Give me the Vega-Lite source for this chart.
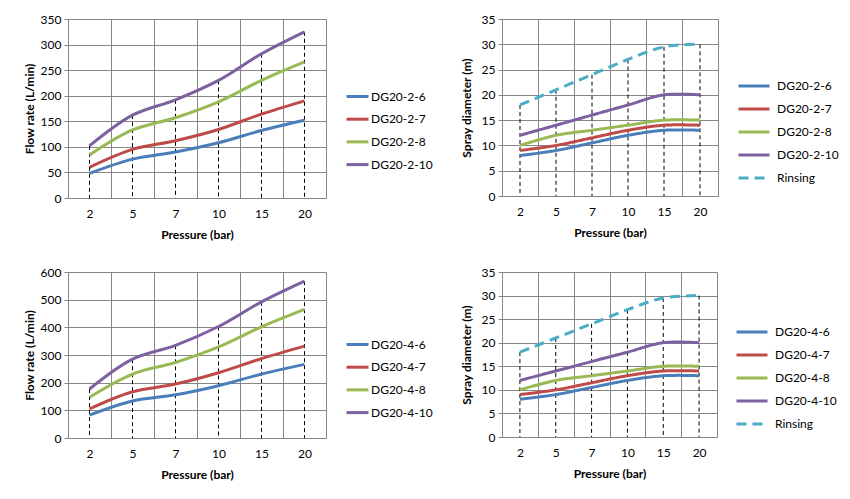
{
  "$schema": "https://vega.github.io/schema/vega-lite/v6.json",
  "background": "white",
  "padding": {"left": 23, "top": 13, "right": 5, "bottom": 5},
  "resolve": {"scale": {"color": "independent", "strokeDash": "independent"}, "legend": {"color": "independent", "strokeDash": "independent"}},
  "datasets": {
    "flow2": [
      {"p": 2, "s": "DG20-2-6", "v": 48}, {"p": 5, "s": "DG20-2-6", "v": 76}, {"p": 7, "s": "DG20-2-6", "v": 90}, {"p": 10, "s": "DG20-2-6", "v": 108}, {"p": 15, "s": "DG20-2-6", "v": 132}, {"p": 20, "s": "DG20-2-6", "v": 152},
      {"p": 2, "s": "DG20-2-7", "v": 60}, {"p": 5, "s": "DG20-2-7", "v": 95}, {"p": 7, "s": "DG20-2-7", "v": 112}, {"p": 10, "s": "DG20-2-7", "v": 134}, {"p": 15, "s": "DG20-2-7", "v": 164}, {"p": 20, "s": "DG20-2-7", "v": 190},
      {"p": 2, "s": "DG20-2-8", "v": 84}, {"p": 5, "s": "DG20-2-8", "v": 133}, {"p": 7, "s": "DG20-2-8", "v": 157}, {"p": 10, "s": "DG20-2-8", "v": 188}, {"p": 15, "s": "DG20-2-8", "v": 230}, {"p": 20, "s": "DG20-2-8", "v": 266},
      {"p": 2, "s": "DG20-2-10", "v": 102}, {"p": 5, "s": "DG20-2-10", "v": 162}, {"p": 7, "s": "DG20-2-10", "v": 192}, {"p": 10, "s": "DG20-2-10", "v": 230}, {"p": 15, "s": "DG20-2-10", "v": 282}, {"p": 20, "s": "DG20-2-10", "v": 325}
    ],
    "flow4": [
      {"p": 2, "s": "DG20-4-6", "v": 83}, {"p": 5, "s": "DG20-4-6", "v": 134}, {"p": 7, "s": "DG20-4-6", "v": 156}, {"p": 10, "s": "DG20-4-6", "v": 189}, {"p": 15, "s": "DG20-4-6", "v": 231}, {"p": 20, "s": "DG20-4-6", "v": 266},
      {"p": 2, "s": "DG20-4-7", "v": 105}, {"p": 5, "s": "DG20-4-7", "v": 167}, {"p": 7, "s": "DG20-4-7", "v": 195}, {"p": 10, "s": "DG20-4-7", "v": 236}, {"p": 15, "s": "DG20-4-7", "v": 287}, {"p": 20, "s": "DG20-4-7", "v": 332},
      {"p": 2, "s": "DG20-4-8", "v": 147}, {"p": 5, "s": "DG20-4-8", "v": 231}, {"p": 7, "s": "DG20-4-8", "v": 273}, {"p": 10, "s": "DG20-4-8", "v": 329}, {"p": 15, "s": "DG20-4-8", "v": 402}, {"p": 20, "s": "DG20-4-8", "v": 465},
      {"p": 2, "s": "DG20-4-10", "v": 177}, {"p": 5, "s": "DG20-4-10", "v": 285}, {"p": 7, "s": "DG20-4-10", "v": 335}, {"p": 10, "s": "DG20-4-10", "v": 403}, {"p": 15, "s": "DG20-4-10", "v": 492}, {"p": 20, "s": "DG20-4-10", "v": 567}
    ],
    "spray2": [
      {"p": 2, "s": "DG20-2-6", "v": 8}, {"p": 5, "s": "DG20-2-6", "v": 9}, {"p": 7, "s": "DG20-2-6", "v": 10.5}, {"p": 10, "s": "DG20-2-6", "v": 12}, {"p": 15, "s": "DG20-2-6", "v": 13}, {"p": 20, "s": "DG20-2-6", "v": 13},
      {"p": 2, "s": "DG20-2-7", "v": 9}, {"p": 5, "s": "DG20-2-7", "v": 10}, {"p": 7, "s": "DG20-2-7", "v": 11.5}, {"p": 10, "s": "DG20-2-7", "v": 13}, {"p": 15, "s": "DG20-2-7", "v": 14}, {"p": 20, "s": "DG20-2-7", "v": 14},
      {"p": 2, "s": "DG20-2-8", "v": 10}, {"p": 5, "s": "DG20-2-8", "v": 12}, {"p": 7, "s": "DG20-2-8", "v": 13}, {"p": 10, "s": "DG20-2-8", "v": 14}, {"p": 15, "s": "DG20-2-8", "v": 15}, {"p": 20, "s": "DG20-2-8", "v": 15},
      {"p": 2, "s": "DG20-2-10", "v": 12}, {"p": 5, "s": "DG20-2-10", "v": 14}, {"p": 7, "s": "DG20-2-10", "v": 16}, {"p": 10, "s": "DG20-2-10", "v": 18}, {"p": 15, "s": "DG20-2-10", "v": 20}, {"p": 20, "s": "DG20-2-10", "v": 20},
      {"p": 2, "s": "Rinsing", "v": 18}, {"p": 5, "s": "Rinsing", "v": 21}, {"p": 7, "s": "Rinsing", "v": 24}, {"p": 10, "s": "Rinsing", "v": 27}, {"p": 15, "s": "Rinsing", "v": 29.5}, {"p": 20, "s": "Rinsing", "v": 30}
    ],
    "spray4": [
      {"p": 2, "s": "DG20-4-6", "v": 8}, {"p": 5, "s": "DG20-4-6", "v": 9}, {"p": 7, "s": "DG20-4-6", "v": 10.5}, {"p": 10, "s": "DG20-4-6", "v": 12}, {"p": 15, "s": "DG20-4-6", "v": 13}, {"p": 20, "s": "DG20-4-6", "v": 13},
      {"p": 2, "s": "DG20-4-7", "v": 9}, {"p": 5, "s": "DG20-4-7", "v": 10}, {"p": 7, "s": "DG20-4-7", "v": 11.5}, {"p": 10, "s": "DG20-4-7", "v": 13}, {"p": 15, "s": "DG20-4-7", "v": 14}, {"p": 20, "s": "DG20-4-7", "v": 14},
      {"p": 2, "s": "DG20-4-8", "v": 10}, {"p": 5, "s": "DG20-4-8", "v": 12}, {"p": 7, "s": "DG20-4-8", "v": 13}, {"p": 10, "s": "DG20-4-8", "v": 14}, {"p": 15, "s": "DG20-4-8", "v": 15}, {"p": 20, "s": "DG20-4-8", "v": 15},
      {"p": 2, "s": "DG20-4-10", "v": 12}, {"p": 5, "s": "DG20-4-10", "v": 14}, {"p": 7, "s": "DG20-4-10", "v": 16}, {"p": 10, "s": "DG20-4-10", "v": 18}, {"p": 15, "s": "DG20-4-10", "v": 20}, {"p": 20, "s": "DG20-4-10", "v": 20},
      {"p": 2, "s": "Rinsing", "v": 18}, {"p": 5, "s": "Rinsing", "v": 21}, {"p": 7, "s": "Rinsing", "v": 24}, {"p": 10, "s": "Rinsing", "v": 27}, {"p": 15, "s": "Rinsing", "v": 29.5}, {"p": 20, "s": "Rinsing", "v": 30}
    ]
  },
  "vconcat": [
    {
      "resolve": {"scale": {"color": "independent", "strokeDash": "independent"}, "legend": {"color": "independent", "strokeDash": "independent"}},
      "hconcat": [
        {
          "width": 258, "height": 179,
          "data": {"name": "flow2"},
          "layer": [
            {
              "mark": {"type": "rule", "color": "#000", "strokeDash": [4, 3], "strokeWidth": 1},
              "encoding": {
                "x": {"field": "p", "type": "ordinal", "bandPosition": 0.5, "sort": [2, 5, 7, 10, 15, 20], "scale": {"type": "band", "paddingInner": 0, "paddingOuter": 0}, "axis": {"title": "Pressure (bar)", "grid": true}},
                "y": {"aggregate": "max", "field": "v", "type": "quantitative", "scale": {"domain": [0, 350]}, "axis": {"title": "Flow rate (L/min)", "values": [0, 50, 100, 150, 200, 250, 300, 350]}},
                "y2": {"datum": 0}
              }
            },
            {
              "mark": {"type": "line", "interpolate": "catmull-rom", "strokeWidth": 3},
              "encoding": {
                "x": {"field": "p", "type": "ordinal", "bandPosition": 0.5, "sort": [2, 5, 7, 10, 15, 20], "scale": {"type": "band", "paddingInner": 0, "paddingOuter": 0}, "axis": {"title": "Pressure (bar)", "grid": true}},
                "y": {"field": "v", "type": "quantitative", "scale": {"domain": [0, 350]}, "axis": {"title": "Flow rate (L/min)", "values": [0, 50, 100, 150, 200, 250, 300, 350]}},
                "color": {"field": "s", "type": "nominal", "scale": {"domain": ["DG20-2-6", "DG20-2-7", "DG20-2-8", "DG20-2-10"], "range": ["#4A7EBB", "#BE4B48", "#98B954", "#7D60A0"]}, "legend": {"title": null, "orient": "none", "legendX": 277, "legendY": 65, "symbolSize": 484, "labelOffset": 1, "rowPadding": 3.7}}
              }
            }
          ]
        },
        {
          "width": 216, "height": 177,
          "data": {"name": "spray2"},
          "layer": [
            {
              "mark": {"type": "rule", "color": "#000", "strokeDash": [4, 3], "strokeWidth": 1},
              "encoding": {
                "x": {"field": "p", "type": "ordinal", "bandPosition": 0.5, "sort": [2, 5, 7, 10, 15, 20], "scale": {"type": "band", "paddingInner": 0, "paddingOuter": 0}, "axis": {"title": "Pressure (bar)", "grid": true}},
                "y": {"aggregate": "max", "field": "v", "type": "quantitative", "scale": {"domain": [0, 35]}, "axis": {"title": "Spray diameter (m)", "titlePadding": 8, "values": [0, 5, 10, 15, 20, 25, 30, 35]}},
                "y2": {"datum": 0}
              }
            },
            {
              "mark": {"type": "line", "interpolate": "catmull-rom", "strokeWidth": 3},
              "encoding": {
                "x": {"field": "p", "type": "ordinal", "bandPosition": 0.5, "sort": [2, 5, 7, 10, 15, 20], "scale": {"type": "band", "paddingInner": 0, "paddingOuter": 0}, "axis": {"title": "Pressure (bar)", "grid": true}},
                "y": {"field": "v", "type": "quantitative", "scale": {"domain": [0, 35]}, "axis": {"title": "Spray diameter (m)", "titlePadding": 8, "values": [0, 5, 10, 15, 20, 25, 30, 35]}},
                "color": {"field": "s", "type": "nominal", "scale": {"domain": ["DG20-2-6", "DG20-2-7", "DG20-2-8", "DG20-2-10", "Rinsing"], "range": ["#4A7EBB", "#BE4B48", "#98B954", "#7D60A0", "#4BACC6"]}, "legend": {"title": null, "orient": "none", "legendX": 235, "legendY": 50, "symbolSize": 961, "labelOffset": 6, "rowPadding": -8}},
                "strokeDash": {"field": "s", "type": "nominal", "scale": {"domain": ["DG20-2-6", "DG20-2-7", "DG20-2-8", "DG20-2-10", "Rinsing"], "range": [[1, 0], [1, 0], [1, 0], [1, 0], [10, 6]]}, "legend": {"title": null, "orient": "none", "legendX": 235, "legendY": 50, "symbolSize": 961, "labelOffset": 6, "rowPadding": -8}}
              }
            }
          ]
        }
      ]
    },
    {
      "resolve": {"scale": {"color": "independent", "strokeDash": "independent"}, "legend": {"color": "independent", "strokeDash": "independent"}},
      "hconcat": [
        {
          "width": 258, "height": 166,
          "data": {"name": "flow4"},
          "layer": [
            {
              "mark": {"type": "rule", "color": "#000", "strokeDash": [4, 3], "strokeWidth": 1},
              "encoding": {
                "x": {"field": "p", "type": "ordinal", "bandPosition": 0.5, "sort": [2, 5, 7, 10, 15, 20], "scale": {"type": "band", "paddingInner": 0, "paddingOuter": 0}, "axis": {"title": "Pressure (bar)", "grid": true}},
                "y": {"aggregate": "max", "field": "v", "type": "quantitative", "scale": {"domain": [0, 600]}, "axis": {"title": "Flow rate (L/min)", "values": [0, 100, 200, 300, 400, 500, 600]}},
                "y2": {"datum": 0}
              }
            },
            {
              "mark": {"type": "line", "interpolate": "catmull-rom", "strokeWidth": 3},
              "encoding": {
                "x": {"field": "p", "type": "ordinal", "bandPosition": 0.5, "sort": [2, 5, 7, 10, 15, 20], "scale": {"type": "band", "paddingInner": 0, "paddingOuter": 0}, "axis": {"title": "Pressure (bar)", "grid": true}},
                "y": {"field": "v", "type": "quantitative", "scale": {"domain": [0, 600]}, "axis": {"title": "Flow rate (L/min)", "values": [0, 100, 200, 300, 400, 500, 600]}},
                "color": {"field": "s", "type": "nominal", "scale": {"domain": ["DG20-4-6", "DG20-4-7", "DG20-4-8", "DG20-4-10"], "range": ["#4A7EBB", "#BE4B48", "#98B954", "#7D60A0"]}, "legend": {"title": null, "orient": "none", "legendX": 277, "legendY": 60, "symbolSize": 484, "labelOffset": 1, "rowPadding": 3.7}}
              }
            }
          ]
        },
        {
          "width": 215, "height": 165,
          "data": {"name": "spray4"},
          "layer": [
            {
              "mark": {"type": "rule", "color": "#000", "strokeDash": [4, 3], "strokeWidth": 1},
              "encoding": {
                "x": {"field": "p", "type": "ordinal", "bandPosition": 0.5, "sort": [2, 5, 7, 10, 15, 20], "scale": {"type": "band", "paddingInner": 0, "paddingOuter": 0}, "axis": {"title": "Pressure (bar)", "grid": true}},
                "y": {"aggregate": "max", "field": "v", "type": "quantitative", "scale": {"domain": [0, 35]}, "axis": {"title": "Spray diameter (m)", "titlePadding": 8, "values": [0, 5, 10, 15, 20, 25, 30, 35]}},
                "y2": {"datum": 0}
              }
            },
            {
              "mark": {"type": "line", "interpolate": "catmull-rom", "strokeWidth": 3},
              "encoding": {
                "x": {"field": "p", "type": "ordinal", "bandPosition": 0.5, "sort": [2, 5, 7, 10, 15, 20], "scale": {"type": "band", "paddingInner": 0, "paddingOuter": 0}, "axis": {"title": "Pressure (bar)", "grid": true}},
                "y": {"field": "v", "type": "quantitative", "scale": {"domain": [0, 35]}, "axis": {"title": "Spray diameter (m)", "titlePadding": 8, "values": [0, 5, 10, 15, 20, 25, 30, 35]}},
                "color": {"field": "s", "type": "nominal", "scale": {"domain": ["DG20-4-6", "DG20-4-7", "DG20-4-8", "DG20-4-10", "Rinsing"], "range": ["#4A7EBB", "#BE4B48", "#98B954", "#7D60A0", "#4BACC6"]}, "legend": {"title": null, "orient": "none", "legendX": 233, "legendY": 43, "symbolSize": 961, "labelOffset": 6, "rowPadding": -8}},
                "strokeDash": {"field": "s", "type": "nominal", "scale": {"domain": ["DG20-4-6", "DG20-4-7", "DG20-4-8", "DG20-4-10", "Rinsing"], "range": [[1, 0], [1, 0], [1, 0], [1, 0], [10, 6]]}, "legend": {"title": null, "orient": "none", "legendX": 233, "legendY": 43, "symbolSize": 961, "labelOffset": 6, "rowPadding": -8}}
              }
            }
          ]
        }
      ]
    }
  ],
  "spacing": 26,
  "config": {
    "font": "Lato",
    "concat": {"spacing": 27},
    "view": {"stroke": null},
    "axis": {"labelFont": "Lato", "labelFontSize": 12, "labelColor": "#000", "titleFont": "Lato", "titleFontSize": 12, "titleFontWeight": "bold", "titleColor": "#000", "gridColor": "#868686", "gridOpacity": 1, "gridWidth": 1, "domainColor": "#868686", "tickColor": "#868686"},
    "axisX": {"ticks": false, "labelPadding": 10, "titlePadding": 10, "labelAngle": 0, "tickBand": "extent"},
    "axisY": {"tickSize": 4, "labelPadding": 3, "titlePadding": 4},
    "legend": {"symbolType": "stroke", "symbolStrokeWidth": 3, "labelFont": "Lato", "labelFontSize": 12, "labelColor": "#000", "padding": 0}
  }
}
